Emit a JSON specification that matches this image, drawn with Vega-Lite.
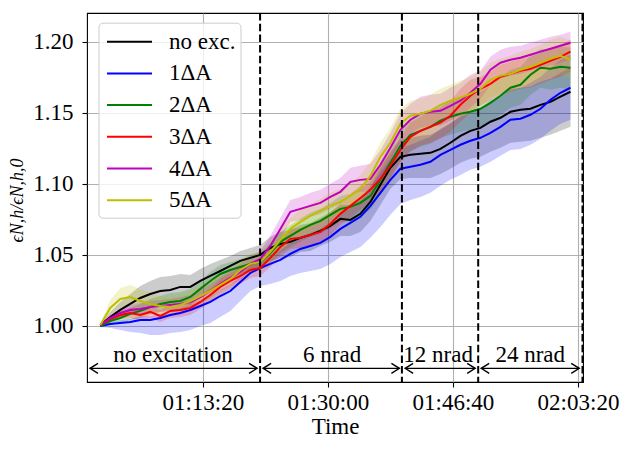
{
  "$schema": "https://vega.github.io/schema/vega-lite/v6.json",
  "width": 496,
  "height": 369,
  "autosize": {"type": "none"},
  "padding": {"left": 87, "top": 13, "right": 47, "bottom": 67},
  "background": "white",
  "datasets": {
    "series": [
      {"s":"no exc.","t":3580,"v":1.0007,"lo":1.0000,"hi":1.0014},
      {"s":"no exc.","t":3660,"v":1.0063,"lo":1.0035,"hi":1.0099},
      {"s":"no exc.","t":3740,"v":1.0113,"lo":1.0063,"hi":1.0169},
      {"s":"no exc.","t":3820,"v":1.0155,"lo":1.0085,"hi":1.0225},
      {"s":"no exc.","t":3900,"v":1.0197,"lo":1.0113,"hi":1.0282},
      {"s":"no exc.","t":3980,"v":1.0225,"lo":1.0127,"hi":1.0317},
      {"s":"no exc.","t":4060,"v":1.0246,"lo":1.0141,"hi":1.0345},
      {"s":"no exc.","t":4140,"v":1.0254,"lo":1.0141,"hi":1.0352},
      {"s":"no exc.","t":4220,"v":1.0275,"lo":1.0155,"hi":1.0366},
      {"s":"no exc.","t":4300,"v":1.0275,"lo":1.0148,"hi":1.0359},
      {"s":"no exc.","t":4380,"v":1.0317,"lo":1.0197,"hi":1.0401},
      {"s":"no exc.","t":4460,"v":1.0352,"lo":1.0239,"hi":1.0437},
      {"s":"no exc.","t":4540,"v":1.0387,"lo":1.0282,"hi":1.0465},
      {"s":"no exc.","t":4620,"v":1.0423,"lo":1.0324,"hi":1.0493},
      {"s":"no exc.","t":4700,"v":1.0458,"lo":1.0366,"hi":1.0528},
      {"s":"no exc.","t":4780,"v":1.0479,"lo":1.0394,"hi":1.0549},
      {"s":"no exc.","t":4860,"v":1.0500,"lo":1.0415,"hi":1.0570},
      {"s":"no exc.","t":4940,"v":1.0549,"lo":1.0458,"hi":1.0627},
      {"s":"no exc.","t":5020,"v":1.0577,"lo":1.0479,"hi":1.0662},
      {"s":"no exc.","t":5100,"v":1.0592,"lo":1.0486,"hi":1.0676},
      {"s":"no exc.","t":5180,"v":1.0620,"lo":1.0521,"hi":1.0711},
      {"s":"no exc.","t":5260,"v":1.0641,"lo":1.0528,"hi":1.0725},
      {"s":"no exc.","t":5340,"v":1.0669,"lo":1.0563,"hi":1.0761},
      {"s":"no exc.","t":5420,"v":1.0704,"lo":1.0592,"hi":1.0803},
      {"s":"no exc.","t":5500,"v":1.0754,"lo":1.0634,"hi":1.0852},
      {"s":"no exc.","t":5580,"v":1.0746,"lo":1.0634,"hi":1.0852},
      {"s":"no exc.","t":5660,"v":1.0789,"lo":1.0662,"hi":1.0887},
      {"s":"no exc.","t":5740,"v":1.0873,"lo":1.0739,"hi":1.0979},
      {"s":"no exc.","t":5820,"v":1.0993,"lo":1.0852,"hi":1.1106},
      {"s":"no exc.","t":5900,"v":1.1113,"lo":1.0965,"hi":1.1225},
      {"s":"no exc.","t":5980,"v":1.1190,"lo":1.1035,"hi":1.1310},
      {"s":"no exc.","t":6060,"v":1.1204,"lo":1.1042,"hi":1.1324},
      {"s":"no exc.","t":6140,"v":1.1211,"lo":1.1042,"hi":1.1338},
      {"s":"no exc.","t":6220,"v":1.1218,"lo":1.1042,"hi":1.1345},
      {"s":"no exc.","t":6300,"v":1.1246,"lo":1.1070,"hi":1.1380},
      {"s":"no exc.","t":6380,"v":1.1289,"lo":1.1106,"hi":1.1423},
      {"s":"no exc.","t":6460,"v":1.1338,"lo":1.1148,"hi":1.1479},
      {"s":"no exc.","t":6540,"v":1.1373,"lo":1.1176,"hi":1.1514},
      {"s":"no exc.","t":6620,"v":1.1394,"lo":1.1190,"hi":1.1535},
      {"s":"no exc.","t":6700,"v":1.1437,"lo":1.1225,"hi":1.1585},
      {"s":"no exc.","t":6780,"v":1.1465,"lo":1.1254,"hi":1.1613},
      {"s":"no exc.","t":6860,"v":1.1507,"lo":1.1289,"hi":1.1662},
      {"s":"no exc.","t":6940,"v":1.1521,"lo":1.1296,"hi":1.1676},
      {"s":"no exc.","t":7020,"v":1.1528,"lo":1.1303,"hi":1.1683},
      {"s":"no exc.","t":7100,"v":1.1556,"lo":1.1324,"hi":1.1718},
      {"s":"no exc.","t":7180,"v":1.1577,"lo":1.1345,"hi":1.1739},
      {"s":"no exc.","t":7260,"v":1.1613,"lo":1.1373,"hi":1.1782},
      {"s":"no exc.","t":7340,"v":1.1648,"lo":1.1401,"hi":1.1817},

      {"s":"1ΔA","t":3580,"v":1.0000,"lo":0.9993,"hi":1.0007},
      {"s":"1ΔA","t":3660,"v":1.0014,"lo":0.9986,"hi":1.0028},
      {"s":"1ΔA","t":3740,"v":1.0021,"lo":0.9972,"hi":1.0042},
      {"s":"1ΔA","t":3820,"v":1.0028,"lo":0.9958,"hi":1.0049},
      {"s":"1ΔA","t":3900,"v":1.0042,"lo":0.9951,"hi":1.0070},
      {"s":"1ΔA","t":3980,"v":1.0042,"lo":0.9937,"hi":1.0070},
      {"s":"1ΔA","t":4060,"v":1.0056,"lo":0.9937,"hi":1.0085},
      {"s":"1ΔA","t":4140,"v":1.0077,"lo":0.9951,"hi":1.0113},
      {"s":"1ΔA","t":4220,"v":1.0092,"lo":0.9958,"hi":1.0127},
      {"s":"1ΔA","t":4300,"v":1.0113,"lo":0.9972,"hi":1.0148},
      {"s":"1ΔA","t":4380,"v":1.0141,"lo":1.0000,"hi":1.0176},
      {"s":"1ΔA","t":4460,"v":1.0169,"lo":1.0021,"hi":1.0211},
      {"s":"1ΔA","t":4540,"v":1.0211,"lo":1.0063,"hi":1.0254},
      {"s":"1ΔA","t":4620,"v":1.0246,"lo":1.0106,"hi":1.0289},
      {"s":"1ΔA","t":4700,"v":1.0310,"lo":1.0176,"hi":1.0352},
      {"s":"1ΔA","t":4780,"v":1.0373,"lo":1.0246,"hi":1.0423},
      {"s":"1ΔA","t":4860,"v":1.0408,"lo":1.0282,"hi":1.0465},
      {"s":"1ΔA","t":4940,"v":1.0437,"lo":1.0296,"hi":1.0500},
      {"s":"1ΔA","t":5020,"v":1.0465,"lo":1.0317,"hi":1.0535},
      {"s":"1ΔA","t":5100,"v":1.0507,"lo":1.0352,"hi":1.0585},
      {"s":"1ΔA","t":5180,"v":1.0542,"lo":1.0373,"hi":1.0627},
      {"s":"1ΔA","t":5260,"v":1.0563,"lo":1.0387,"hi":1.0655},
      {"s":"1ΔA","t":5340,"v":1.0585,"lo":1.0401,"hi":1.0683},
      {"s":"1ΔA","t":5420,"v":1.0627,"lo":1.0437,"hi":1.0732},
      {"s":"1ΔA","t":5500,"v":1.0683,"lo":1.0486,"hi":1.0796},
      {"s":"1ΔA","t":5580,"v":1.0725,"lo":1.0521,"hi":1.0845},
      {"s":"1ΔA","t":5660,"v":1.0768,"lo":1.0556,"hi":1.0894},
      {"s":"1ΔA","t":5740,"v":1.0845,"lo":1.0620,"hi":1.0979},
      {"s":"1ΔA","t":5820,"v":1.0937,"lo":1.0697,"hi":1.1077},
      {"s":"1ΔA","t":5900,"v":1.1028,"lo":1.0782,"hi":1.1169},
      {"s":"1ΔA","t":5980,"v":1.1106,"lo":1.0859,"hi":1.1246},
      {"s":"1ΔA","t":6060,"v":1.1120,"lo":1.0887,"hi":1.1275},
      {"s":"1ΔA","t":6140,"v":1.1134,"lo":1.0908,"hi":1.1303},
      {"s":"1ΔA","t":6220,"v":1.1155,"lo":1.0937,"hi":1.1331},
      {"s":"1ΔA","t":6300,"v":1.1204,"lo":1.0986,"hi":1.1387},
      {"s":"1ΔA","t":6380,"v":1.1239,"lo":1.1028,"hi":1.1430},
      {"s":"1ΔA","t":6460,"v":1.1275,"lo":1.1063,"hi":1.1472},
      {"s":"1ΔA","t":6540,"v":1.1303,"lo":1.1099,"hi":1.1500},
      {"s":"1ΔA","t":6620,"v":1.1324,"lo":1.1120,"hi":1.1528},
      {"s":"1ΔA","t":6700,"v":1.1359,"lo":1.1155,"hi":1.1570},
      {"s":"1ΔA","t":6780,"v":1.1401,"lo":1.1197,"hi":1.1613},
      {"s":"1ΔA","t":6860,"v":1.1451,"lo":1.1239,"hi":1.1669},
      {"s":"1ΔA","t":6940,"v":1.1458,"lo":1.1246,"hi":1.1676},
      {"s":"1ΔA","t":7020,"v":1.1486,"lo":1.1275,"hi":1.1711},
      {"s":"1ΔA","t":7100,"v":1.1528,"lo":1.1317,"hi":1.1754},
      {"s":"1ΔA","t":7180,"v":1.1592,"lo":1.1373,"hi":1.1817},
      {"s":"1ΔA","t":7260,"v":1.1641,"lo":1.1423,"hi":1.1873},
      {"s":"1ΔA","t":7340,"v":1.1676,"lo":1.1451,"hi":1.1908},

      {"s":"2ΔA","t":3580,"v":1.0000,"lo":0.9993,"hi":1.0007},
      {"s":"2ΔA","t":3660,"v":1.0035,"lo":1.0014,"hi":1.0056},
      {"s":"2ΔA","t":3740,"v":1.0056,"lo":1.0021,"hi":1.0092},
      {"s":"2ΔA","t":3820,"v":1.0085,"lo":1.0042,"hi":1.0127},
      {"s":"2ΔA","t":3900,"v":1.0106,"lo":1.0056,"hi":1.0155},
      {"s":"2ΔA","t":3980,"v":1.0134,"lo":1.0077,"hi":1.0190},
      {"s":"2ΔA","t":4060,"v":1.0155,"lo":1.0099,"hi":1.0211},
      {"s":"2ΔA","t":4140,"v":1.0169,"lo":1.0113,"hi":1.0232},
      {"s":"2ΔA","t":4220,"v":1.0176,"lo":1.0113,"hi":1.0239},
      {"s":"2ΔA","t":4300,"v":1.0204,"lo":1.0141,"hi":1.0261},
      {"s":"2ΔA","t":4380,"v":1.0261,"lo":1.0197,"hi":1.0317},
      {"s":"2ΔA","t":4460,"v":1.0317,"lo":1.0254,"hi":1.0380},
      {"s":"2ΔA","t":4540,"v":1.0366,"lo":1.0303,"hi":1.0430},
      {"s":"2ΔA","t":4620,"v":1.0394,"lo":1.0331,"hi":1.0451},
      {"s":"2ΔA","t":4700,"v":1.0415,"lo":1.0359,"hi":1.0472},
      {"s":"2ΔA","t":4780,"v":1.0437,"lo":1.0380,"hi":1.0500},
      {"s":"2ΔA","t":4860,"v":1.0451,"lo":1.0394,"hi":1.0514},
      {"s":"2ΔA","t":4940,"v":1.0514,"lo":1.0444,"hi":1.0585},
      {"s":"2ΔA","t":5020,"v":1.0592,"lo":1.0514,"hi":1.0662},
      {"s":"2ΔA","t":5100,"v":1.0634,"lo":1.0556,"hi":1.0711},
      {"s":"2ΔA","t":5180,"v":1.0676,"lo":1.0592,"hi":1.0754},
      {"s":"2ΔA","t":5260,"v":1.0711,"lo":1.0627,"hi":1.0796},
      {"s":"2ΔA","t":5340,"v":1.0739,"lo":1.0648,"hi":1.0824},
      {"s":"2ΔA","t":5420,"v":1.0782,"lo":1.0690,"hi":1.0866},
      {"s":"2ΔA","t":5500,"v":1.0824,"lo":1.0732,"hi":1.0915},
      {"s":"2ΔA","t":5580,"v":1.0838,"lo":1.0739,"hi":1.0930},
      {"s":"2ΔA","t":5660,"v":1.0866,"lo":1.0768,"hi":1.0958},
      {"s":"2ΔA","t":5740,"v":1.0915,"lo":1.0817,"hi":1.1014},
      {"s":"2ΔA","t":5820,"v":1.1028,"lo":1.0923,"hi":1.1127},
      {"s":"2ΔA","t":5900,"v":1.1148,"lo":1.1042,"hi":1.1246},
      {"s":"2ΔA","t":5980,"v":1.1268,"lo":1.1162,"hi":1.1373},
      {"s":"2ΔA","t":6060,"v":1.1345,"lo":1.1232,"hi":1.1451},
      {"s":"2ΔA","t":6140,"v":1.1373,"lo":1.1261,"hi":1.1479},
      {"s":"2ΔA","t":6220,"v":1.1401,"lo":1.1282,"hi":1.1514},
      {"s":"2ΔA","t":6300,"v":1.1444,"lo":1.1324,"hi":1.1556},
      {"s":"2ΔA","t":6380,"v":1.1472,"lo":1.1345,"hi":1.1585},
      {"s":"2ΔA","t":6460,"v":1.1493,"lo":1.1366,"hi":1.1613},
      {"s":"2ΔA","t":6540,"v":1.1507,"lo":1.1380,"hi":1.1627},
      {"s":"2ΔA","t":6620,"v":1.1528,"lo":1.1394,"hi":1.1648},
      {"s":"2ΔA","t":6700,"v":1.1570,"lo":1.1437,"hi":1.1690},
      {"s":"2ΔA","t":6780,"v":1.1620,"lo":1.1486,"hi":1.1746},
      {"s":"2ΔA","t":6860,"v":1.1676,"lo":1.1535,"hi":1.1803},
      {"s":"2ΔA","t":6940,"v":1.1697,"lo":1.1556,"hi":1.1824},
      {"s":"2ΔA","t":7020,"v":1.1768,"lo":1.1627,"hi":1.1901},
      {"s":"2ΔA","t":7100,"v":1.1817,"lo":1.1676,"hi":1.1951},
      {"s":"2ΔA","t":7180,"v":1.1810,"lo":1.1662,"hi":1.1944},
      {"s":"2ΔA","t":7260,"v":1.1824,"lo":1.1676,"hi":1.1965},
      {"s":"2ΔA","t":7340,"v":1.1817,"lo":1.1662,"hi":1.1958},

      {"s":"3ΔA","t":3580,"v":1.0007,"lo":1.0000,"hi":1.0014},
      {"s":"3ΔA","t":3660,"v":1.0049,"lo":1.0028,"hi":1.0070},
      {"s":"3ΔA","t":3740,"v":1.0077,"lo":1.0049,"hi":1.0106},
      {"s":"3ΔA","t":3820,"v":1.0092,"lo":1.0056,"hi":1.0127},
      {"s":"3ΔA","t":3900,"v":1.0077,"lo":1.0035,"hi":1.0120},
      {"s":"3ΔA","t":3980,"v":1.0099,"lo":1.0056,"hi":1.0141},
      {"s":"3ΔA","t":4060,"v":1.0070,"lo":1.0028,"hi":1.0113},
      {"s":"3ΔA","t":4140,"v":1.0106,"lo":1.0056,"hi":1.0155},
      {"s":"3ΔA","t":4220,"v":1.0113,"lo":1.0063,"hi":1.0162},
      {"s":"3ΔA","t":4300,"v":1.0127,"lo":1.0077,"hi":1.0176},
      {"s":"3ΔA","t":4380,"v":1.0169,"lo":1.0120,"hi":1.0218},
      {"s":"3ΔA","t":4460,"v":1.0218,"lo":1.0169,"hi":1.0268},
      {"s":"3ΔA","t":4540,"v":1.0275,"lo":1.0218,"hi":1.0331},
      {"s":"3ΔA","t":4620,"v":1.0317,"lo":1.0261,"hi":1.0373},
      {"s":"3ΔA","t":4700,"v":1.0352,"lo":1.0296,"hi":1.0408},
      {"s":"3ΔA","t":4780,"v":1.0394,"lo":1.0338,"hi":1.0451},
      {"s":"3ΔA","t":4860,"v":1.0408,"lo":1.0352,"hi":1.0465},
      {"s":"3ΔA","t":4940,"v":1.0479,"lo":1.0415,"hi":1.0542},
      {"s":"3ΔA","t":5020,"v":1.0556,"lo":1.0493,"hi":1.0620},
      {"s":"3ΔA","t":5100,"v":1.0613,"lo":1.0542,"hi":1.0683},
      {"s":"3ΔA","t":5180,"v":1.0620,"lo":1.0549,"hi":1.0690},
      {"s":"3ΔA","t":5260,"v":1.0641,"lo":1.0570,"hi":1.0711},
      {"s":"3ΔA","t":5340,"v":1.0662,"lo":1.0585,"hi":1.0739},
      {"s":"3ΔA","t":5420,"v":1.0718,"lo":1.0641,"hi":1.0796},
      {"s":"3ΔA","t":5500,"v":1.0789,"lo":1.0711,"hi":1.0866},
      {"s":"3ΔA","t":5580,"v":1.0845,"lo":1.0761,"hi":1.0930},
      {"s":"3ΔA","t":5660,"v":1.0901,"lo":1.0817,"hi":1.0986},
      {"s":"3ΔA","t":5740,"v":1.0958,"lo":1.0873,"hi":1.1042},
      {"s":"3ΔA","t":5820,"v":1.1035,"lo":1.0944,"hi":1.1127},
      {"s":"3ΔA","t":5900,"v":1.1127,"lo":1.1035,"hi":1.1218},
      {"s":"3ΔA","t":5980,"v":1.1239,"lo":1.1148,"hi":1.1331},
      {"s":"3ΔA","t":6060,"v":1.1331,"lo":1.1225,"hi":1.1430},
      {"s":"3ΔA","t":6140,"v":1.1373,"lo":1.1268,"hi":1.1472},
      {"s":"3ΔA","t":6220,"v":1.1401,"lo":1.1289,"hi":1.1507},
      {"s":"3ΔA","t":6300,"v":1.1430,"lo":1.1317,"hi":1.1535},
      {"s":"3ΔA","t":6380,"v":1.1479,"lo":1.1366,"hi":1.1585},
      {"s":"3ΔA","t":6460,"v":1.1556,"lo":1.1437,"hi":1.1669},
      {"s":"3ΔA","t":6540,"v":1.1620,"lo":1.1500,"hi":1.1732},
      {"s":"3ΔA","t":6620,"v":1.1669,"lo":1.1549,"hi":1.1754},
      {"s":"3ΔA","t":6700,"v":1.1704,"lo":1.1585,"hi":1.1789},
      {"s":"3ΔA","t":6780,"v":1.1754,"lo":1.1627,"hi":1.1838},
      {"s":"3ΔA","t":6860,"v":1.1775,"lo":1.1648,"hi":1.1859},
      {"s":"3ΔA","t":6940,"v":1.1796,"lo":1.1669,"hi":1.1880},
      {"s":"3ΔA","t":7020,"v":1.1810,"lo":1.1676,"hi":1.1894},
      {"s":"3ΔA","t":7100,"v":1.1838,"lo":1.1704,"hi":1.1923},
      {"s":"3ΔA","t":7180,"v":1.1866,"lo":1.1732,"hi":1.1951},
      {"s":"3ΔA","t":7260,"v":1.1894,"lo":1.1754,"hi":1.1979},
      {"s":"3ΔA","t":7340,"v":1.1930,"lo":1.1789,"hi":1.2014},

      {"s":"4ΔA","t":3580,"v":1.0007,"lo":1.0000,"hi":1.0014},
      {"s":"4ΔA","t":3660,"v":1.0056,"lo":1.0035,"hi":1.0077},
      {"s":"4ΔA","t":3740,"v":1.0092,"lo":1.0063,"hi":1.0120},
      {"s":"4ΔA","t":3820,"v":1.0113,"lo":1.0077,"hi":1.0148},
      {"s":"4ΔA","t":3900,"v":1.0120,"lo":1.0077,"hi":1.0162},
      {"s":"4ΔA","t":3980,"v":1.0134,"lo":1.0092,"hi":1.0176},
      {"s":"4ΔA","t":4060,"v":1.0141,"lo":1.0099,"hi":1.0183},
      {"s":"4ΔA","t":4140,"v":1.0148,"lo":1.0106,"hi":1.0190},
      {"s":"4ΔA","t":4220,"v":1.0155,"lo":1.0106,"hi":1.0204},
      {"s":"4ΔA","t":4300,"v":1.0169,"lo":1.0120,"hi":1.0218},
      {"s":"4ΔA","t":4380,"v":1.0204,"lo":1.0155,"hi":1.0254},
      {"s":"4ΔA","t":4460,"v":1.0246,"lo":1.0197,"hi":1.0296},
      {"s":"4ΔA","t":4540,"v":1.0296,"lo":1.0246,"hi":1.0345},
      {"s":"4ΔA","t":4620,"v":1.0338,"lo":1.0282,"hi":1.0394},
      {"s":"4ΔA","t":4700,"v":1.0380,"lo":1.0324,"hi":1.0437},
      {"s":"4ΔA","t":4780,"v":1.0437,"lo":1.0380,"hi":1.0493},
      {"s":"4ΔA","t":4860,"v":1.0472,"lo":1.0415,"hi":1.0528},
      {"s":"4ΔA","t":4940,"v":1.0563,"lo":1.0500,"hi":1.0634},
      {"s":"4ΔA","t":5020,"v":1.0683,"lo":1.0613,"hi":1.0761},
      {"s":"4ΔA","t":5100,"v":1.0803,"lo":1.0732,"hi":1.0887},
      {"s":"4ΔA","t":5180,"v":1.0824,"lo":1.0746,"hi":1.0908},
      {"s":"4ΔA","t":5260,"v":1.0845,"lo":1.0768,"hi":1.0937},
      {"s":"4ΔA","t":5340,"v":1.0866,"lo":1.0789,"hi":1.0958},
      {"s":"4ΔA","t":5420,"v":1.0908,"lo":1.0824,"hi":1.1000},
      {"s":"4ΔA","t":5500,"v":1.0944,"lo":1.0859,"hi":1.1042},
      {"s":"4ΔA","t":5580,"v":1.1014,"lo":1.0930,"hi":1.1113},
      {"s":"4ΔA","t":5660,"v":1.1028,"lo":1.0944,"hi":1.1127},
      {"s":"4ΔA","t":5740,"v":1.1035,"lo":1.0944,"hi":1.1141},
      {"s":"4ΔA","t":5820,"v":1.1134,"lo":1.1042,"hi":1.1239},
      {"s":"4ΔA","t":5900,"v":1.1254,"lo":1.1162,"hi":1.1359},
      {"s":"4ΔA","t":5980,"v":1.1380,"lo":1.1289,"hi":1.1493},
      {"s":"4ΔA","t":6060,"v":1.1451,"lo":1.1352,"hi":1.1563},
      {"s":"4ΔA","t":6140,"v":1.1493,"lo":1.1394,"hi":1.1613},
      {"s":"4ΔA","t":6220,"v":1.1507,"lo":1.1408,"hi":1.1627},
      {"s":"4ΔA","t":6300,"v":1.1514,"lo":1.1408,"hi":1.1634},
      {"s":"4ΔA","t":6380,"v":1.1549,"lo":1.1444,"hi":1.1676},
      {"s":"4ΔA","t":6460,"v":1.1585,"lo":1.1479,"hi":1.1711},
      {"s":"4ΔA","t":6540,"v":1.1641,"lo":1.1535,"hi":1.1768},
      {"s":"4ΔA","t":6620,"v":1.1704,"lo":1.1599,"hi":1.1796},
      {"s":"4ΔA","t":6700,"v":1.1803,"lo":1.1697,"hi":1.1894},
      {"s":"4ΔA","t":6780,"v":1.1852,"lo":1.1739,"hi":1.1944},
      {"s":"4ΔA","t":6860,"v":1.1873,"lo":1.1761,"hi":1.1965},
      {"s":"4ΔA","t":6940,"v":1.1887,"lo":1.1775,"hi":1.1972},
      {"s":"4ΔA","t":7020,"v":1.1908,"lo":1.1796,"hi":1.1993},
      {"s":"4ΔA","t":7100,"v":1.1930,"lo":1.1817,"hi":1.2014},
      {"s":"4ΔA","t":7180,"v":1.1951,"lo":1.1831,"hi":1.2035},
      {"s":"4ΔA","t":7260,"v":1.1972,"lo":1.1852,"hi":1.2049},
      {"s":"4ΔA","t":7340,"v":1.1993,"lo":1.1873,"hi":1.2070},

      {"s":"5ΔA","t":3580,"v":1.0007,"lo":1.0000,"hi":1.0014},
      {"s":"5ΔA","t":3660,"v":1.0127,"lo":1.0085,"hi":1.0183},
      {"s":"5ΔA","t":3740,"v":1.0190,"lo":1.0134,"hi":1.0268},
      {"s":"5ΔA","t":3820,"v":1.0204,"lo":1.0141,"hi":1.0289},
      {"s":"5ΔA","t":3900,"v":1.0176,"lo":1.0113,"hi":1.0261},
      {"s":"5ΔA","t":3980,"v":1.0155,"lo":1.0092,"hi":1.0232},
      {"s":"5ΔA","t":4060,"v":1.0141,"lo":1.0077,"hi":1.0211},
      {"s":"5ΔA","t":4140,"v":1.0134,"lo":1.0070,"hi":1.0204},
      {"s":"5ΔA","t":4220,"v":1.0148,"lo":1.0085,"hi":1.0218},
      {"s":"5ΔA","t":4300,"v":1.0176,"lo":1.0113,"hi":1.0246},
      {"s":"5ΔA","t":4380,"v":1.0211,"lo":1.0148,"hi":1.0282},
      {"s":"5ΔA","t":4460,"v":1.0246,"lo":1.0183,"hi":1.0317},
      {"s":"5ΔA","t":4540,"v":1.0289,"lo":1.0225,"hi":1.0359},
      {"s":"5ΔA","t":4620,"v":1.0331,"lo":1.0268,"hi":1.0401},
      {"s":"5ΔA","t":4700,"v":1.0394,"lo":1.0331,"hi":1.0465},
      {"s":"5ΔA","t":4780,"v":1.0437,"lo":1.0373,"hi":1.0507},
      {"s":"5ΔA","t":4860,"v":1.0451,"lo":1.0387,"hi":1.0521},
      {"s":"5ΔA","t":4940,"v":1.0521,"lo":1.0451,"hi":1.0592},
      {"s":"5ΔA","t":5020,"v":1.0606,"lo":1.0528,"hi":1.0683},
      {"s":"5ΔA","t":5100,"v":1.0683,"lo":1.0606,"hi":1.0761},
      {"s":"5ΔA","t":5180,"v":1.0732,"lo":1.0648,"hi":1.0817},
      {"s":"5ΔA","t":5260,"v":1.0775,"lo":1.0690,"hi":1.0859},
      {"s":"5ΔA","t":5340,"v":1.0810,"lo":1.0725,"hi":1.0894},
      {"s":"5ΔA","t":5420,"v":1.0845,"lo":1.0754,"hi":1.0937},
      {"s":"5ΔA","t":5500,"v":1.0873,"lo":1.0782,"hi":1.0965},
      {"s":"5ΔA","t":5580,"v":1.0915,"lo":1.0824,"hi":1.1007},
      {"s":"5ΔA","t":5660,"v":1.0965,"lo":1.0866,"hi":1.1063},
      {"s":"5ΔA","t":5740,"v":1.1056,"lo":1.0958,"hi":1.1155},
      {"s":"5ΔA","t":5820,"v":1.1190,"lo":1.1092,"hi":1.1289},
      {"s":"5ΔA","t":5900,"v":1.1289,"lo":1.1183,"hi":1.1394},
      {"s":"5ΔA","t":5980,"v":1.1423,"lo":1.1317,"hi":1.1528},
      {"s":"5ΔA","t":6060,"v":1.1479,"lo":1.1373,"hi":1.1585},
      {"s":"5ΔA","t":6140,"v":1.1493,"lo":1.1387,"hi":1.1599},
      {"s":"5ΔA","t":6220,"v":1.1514,"lo":1.1401,"hi":1.1627},
      {"s":"5ΔA","t":6300,"v":1.1556,"lo":1.1444,"hi":1.1669},
      {"s":"5ΔA","t":6380,"v":1.1585,"lo":1.1472,"hi":1.1697},
      {"s":"5ΔA","t":6460,"v":1.1606,"lo":1.1486,"hi":1.1725},
      {"s":"5ΔA","t":6540,"v":1.1634,"lo":1.1514,"hi":1.1754},
      {"s":"5ΔA","t":6620,"v":1.1669,"lo":1.1549,"hi":1.1789},
      {"s":"5ΔA","t":6700,"v":1.1732,"lo":1.1613,"hi":1.1852},
      {"s":"5ΔA","t":6780,"v":1.1761,"lo":1.1641,"hi":1.1880},
      {"s":"5ΔA","t":6860,"v":1.1775,"lo":1.1648,"hi":1.1901},
      {"s":"5ΔA","t":6940,"v":1.1803,"lo":1.1676,"hi":1.1930},
      {"s":"5ΔA","t":7020,"v":1.1824,"lo":1.1697,"hi":1.1951},
      {"s":"5ΔA","t":7100,"v":1.1852,"lo":1.1725,"hi":1.1979},
      {"s":"5ΔA","t":7180,"v":1.1880,"lo":1.1746,"hi":1.2014},
      {"s":"5ΔA","t":7260,"v":1.1901,"lo":1.1768,"hi":1.2035},
      {"s":"5ΔA","t":7340,"v":1.1873,"lo":1.1739,"hi":1.2007}
    ],
    "boundaries": [
      {"t": 4858},
      {"t": 5992},
      {"t": 6602},
      {"t": 7436}
    ],
    "phases": [
      {"label": "no excitation", "start": 3498, "end": 4834, "mid": 4162},
      {"label": "6 nrad", "start": 4882, "end": 5972, "mid": 5434},
      {"label": "12 nrad", "start": 6018, "end": 6578, "mid": 6282},
      {"label": "24 nrad", "start": 6626, "end": 7410, "mid": 7018}
    ]
  },
  "layer": [
    {
      "data": {"name": "series"},
      "mark": {"type": "area", "fillOpacity": 0.2},
      "encoding": {
        "x": {
          "field": "t",
          "type": "quantitative",
          "title": "Time",
          "scale": {"domain": [3474, 7440], "nice": false, "zero": false},
          "axis": {
            "values": [4400, 5400, 6400, 7400],
            "labelExpr": "utcFormat(datum.value * 1000, '%H:%M:%S')",
            "labelPadding": 4,
            "titleY": 51,
            "titleBaseline": "alphabetic"
          }
        },
        "y": {
          "field": "lo",
          "type": "quantitative",
          "title": "ϵN,h/ϵN,h,0",
          "scale": {"domain": [0.9606, 1.2202], "nice": false, "zero": false},
          "axis": {
            "values": [1.0, 1.05, 1.1, 1.15, 1.2],
            "format": ".2f",
            "labelPadding": 9,
            "titleFontSize": 18,
            "titleFontStyle": "italic",
            "titleX": -70,
            "titleY": 187,
            "titleAngle": -90,
            "titleAlign": "center",
            "titleBaseline": "middle"
          }
        },
        "y2": {"field": "hi"},
        "fill": {
          "field": "s",
          "type": "nominal",
          "scale": {
            "domain": ["no exc.", "1ΔA", "2ΔA", "3ΔA", "4ΔA", "5ΔA"],
            "range": ["#000000", "#0000ff", "#008000", "#ff0000", "#bf00bf", "#bfbf00"]
          },
          "legend": {
            "title": null,
            "orient": "none",
            "legendX": 11.5,
            "legendY": 9.7,
            "padding": 5,
            "fillColor": "rgba(255,255,255,0.8)",
            "strokeColor": "#cccccc",
            "cornerRadius": 4,
            "symbolType": "M-1.73,0L1.73,0",
            "symbolSize": 676,
            "symbolStrokeWidth": 2,
            "symbolOffset": 12,
            "labelOffset": 25.5,
            "rowPadding": 5.7,
            "labelExpr": "datum.label + ' '",
            "labelFont": "Liberation Serif",
            "labelFontSize": 23,
            "labelColor": "#000000"
          }
        }
      }
    },
    {
      "data": {"name": "series"},
      "mark": {"type": "line", "strokeWidth": 2},
      "encoding": {
        "x": {"field": "t", "type": "quantitative", "title": "Time"},
        "y": {"field": "v", "type": "quantitative", "title": "ϵN,h/ϵN,h,0"},
        "color": {
          "field": "s",
          "type": "nominal",
          "scale": {
            "domain": ["no exc.", "1ΔA", "2ΔA", "3ΔA", "4ΔA", "5ΔA"],
            "range": ["#000000", "#0000ff", "#008000", "#ff0000", "#bf00bf", "#bfbf00"]
          },
          "legend": {
            "title": null,
            "orient": "none",
            "legendX": 11.5,
            "legendY": 9.7,
            "padding": 5,
            "fillColor": "rgba(255,255,255,0.8)",
            "strokeColor": "#cccccc",
            "cornerRadius": 4,
            "symbolType": "M-1.73,0L1.73,0",
            "symbolSize": 676,
            "symbolStrokeWidth": 2,
            "symbolOffset": 12,
            "labelOffset": 25.5,
            "rowPadding": 5.7,
            "labelExpr": "datum.label + ' '",
            "labelFont": "Liberation Serif",
            "labelFontSize": 23,
            "labelColor": "#000000"
          }
        }
      }
    },
    {
      "data": {"name": "boundaries"},
      "mark": {"type": "rule", "color": "#000000", "strokeWidth": 2, "strokeDash": [7.5, 3.2]},
      "encoding": {
        "x": {"field": "t", "type": "quantitative", "title": "Time"}
      }
    },
    {
      "data": {"name": "phases"},
      "mark": {"type": "rule", "color": "#000000", "strokeWidth": 1.4},
      "encoding": {
        "x": {"field": "start", "type": "quantitative", "title": "Time"},
        "x2": {"field": "end"},
        "y": {"datum": 0.9702, "type": "quantitative", "title": "ϵN,h/ϵN,h,0"}
      }
    },
    {
      "data": {"name": "phases"},
      "mark": {"type": "point", "shape": "M1.6,-1L0,0L1.6,1", "filled": false, "size": 100, "color": "#000000", "strokeWidth": 1.4, "opacity": 1},
      "encoding": {
        "x": {"field": "start", "type": "quantitative", "title": "Time"},
        "y": {"datum": 0.9702, "type": "quantitative", "title": "ϵN,h/ϵN,h,0"}
      }
    },
    {
      "data": {"name": "phases"},
      "mark": {"type": "point", "shape": "M-1.6,-1L0,0L-1.6,1", "filled": false, "size": 100, "color": "#000000", "strokeWidth": 1.4, "opacity": 1},
      "encoding": {
        "x": {"field": "end", "type": "quantitative", "title": "Time"},
        "y": {"datum": 0.9702, "type": "quantitative", "title": "ϵN,h/ϵN,h,0"}
      }
    },
    {
      "data": {"name": "phases"},
      "mark": {"type": "text", "font": "Liberation Serif", "fontSize": 23, "align": "center", "baseline": "alphabetic", "color": "#000000"},
      "encoding": {
        "x": {"field": "mid", "type": "quantitative", "title": "Time"},
        "y": {"datum": 0.9746, "type": "quantitative", "title": "ϵN,h/ϵN,h,0"},
        "text": {"field": "label"}
      }
    }
  ],
  "config": {
    "view": {"stroke": "#000000", "strokeWidth": 1.1},
    "axis": {
      "grid": true,
      "gridColor": "#b0b0b0",
      "gridWidth": 1.1,
      "domain": false,
      "ticks": true,
      "tickColor": "#000000",
      "tickWidth": 1.1,
      "tickSize": 5,
      "labelFont": "Liberation Serif",
      "labelFontSize": 23,
      "labelColor": "#000000",
      "titleFont": "Liberation Serif",
      "titleFontSize": 23,
      "titleFontWeight": "normal",
      "titleColor": "#000000"
    }
  }
}
